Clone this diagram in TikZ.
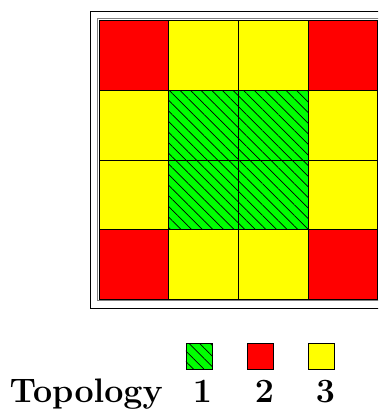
\documentclass[tikz,border=0pt]{standalone}
\usepackage{tikz}
\usetikzlibrary{patterns.meta,positioning}
\definecolor{topored}{RGB}{255,0,0}
\definecolor{topoyellow}{RGB}{255,255,0}
\definecolor{topogreen}{RGB}{0,255,0}

\begin{document}
\begin{tikzpicture}[
  x=1pt, y=1pt,
  cell/.style={draw=black, line width=0.8pt, inner sep=0pt, minimum size=69.7pt},
  topo1/.style={cell, fill=topogreen, postaction={pattern={Lines[angle=-45,distance=7.5pt,line width=0.7pt]}, pattern color=black}},
  topo2/.style={cell, fill=topored},
  topo3/.style={cell, fill=topoyellow},
  key/.style={minimum size=26.5pt},
  lbl/.style={font=\fontsize{34}{34}\selectfont\bfseries, inner sep=0pt, anchor=base}
]
\useasboundingbox (0,0) rectangle (378,409);
\clip (0,0) rectangle (378,409);

% frames round the grid
\draw[line width=1pt] (90,100.7) rectangle (386.7,397.3);
\draw[gray, line width=0.8pt] (97.8,108.2) rectangle (379,390.5);

% 4x4 grid, row by row from the top
\foreach \t [count=\i from 0] in {2,3,3,2, 3,1,1,3, 3,1,1,3, 2,3,3,2} {
  \pgfmathtruncatemacro{\col}{mod(\i,4)}
  \pgfmathtruncatemacro{\row}{div(\i,4)}
  \node[topo\t] (cell\i) at ({99+34.85+69.7*\col},{388.3-34.85-69.7*\row}) {};
}

% legend
\node[topo1, key] (key1) at (199.2,52.5) {};
\node[topo2, key] (key2) at (260.2,52.5) {};
\node[topo3, key] (key3) at (321.3,52.5) {};
\node[lbl] (num1) at (202.5,6) {1};
\node[lbl] (num2) at (264.5,6) {2};
\node[lbl] (num3) at (325.5,6) {3};
\node[lbl, anchor=base east] (title) at (163,6) {Topology};
\end{tikzpicture}
\end{document}
